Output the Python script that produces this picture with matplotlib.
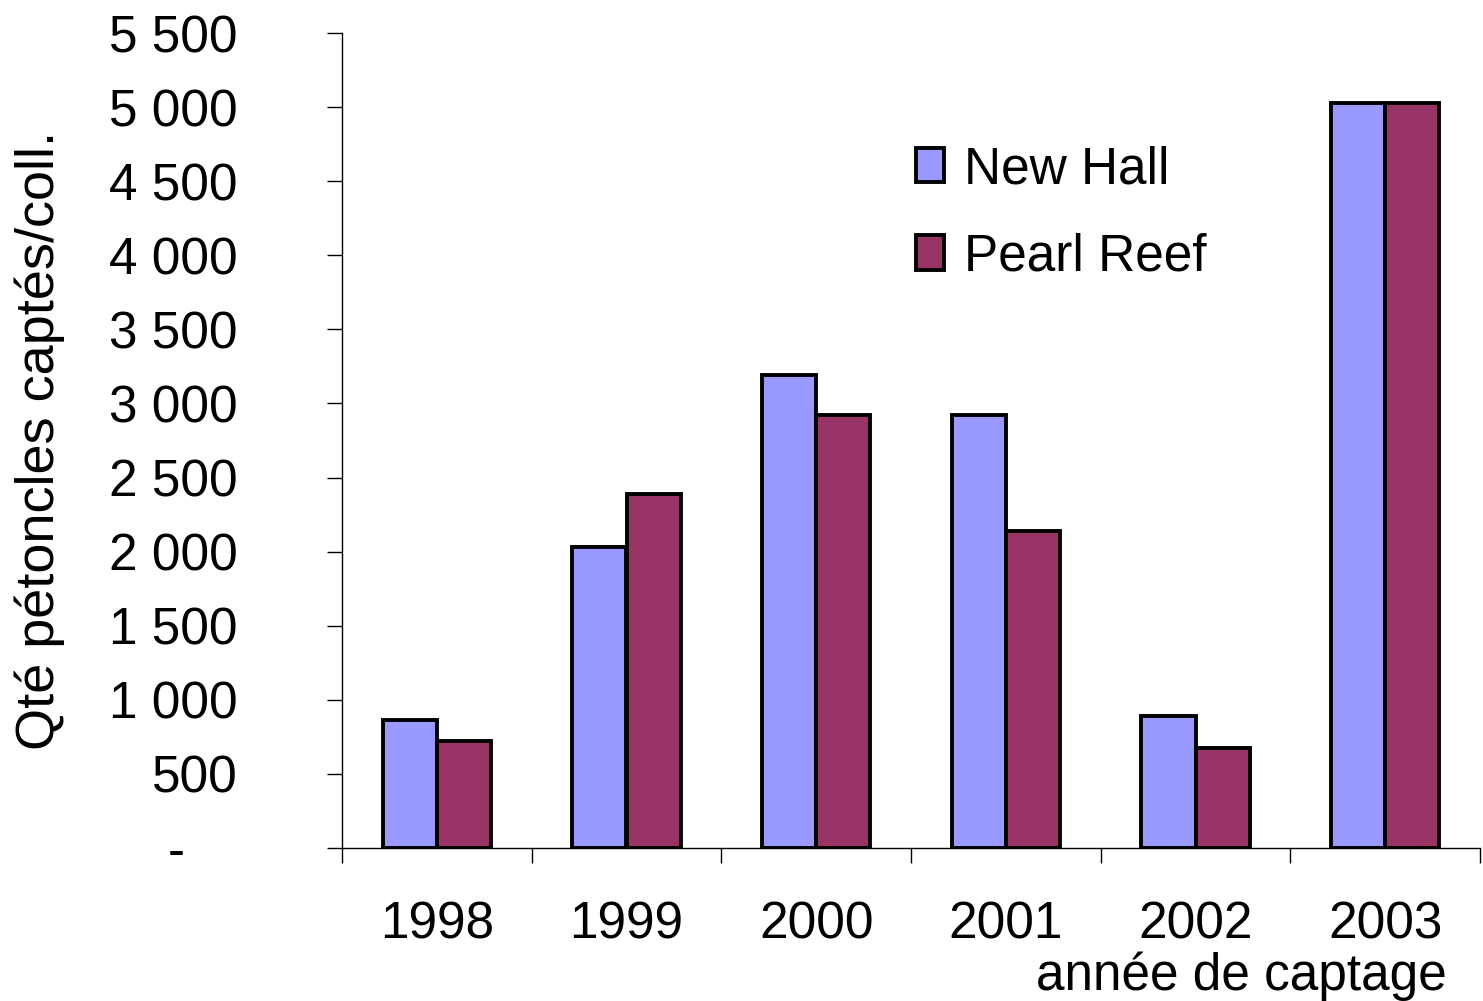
import matplotlib
matplotlib.use("Agg")
import matplotlib.pyplot as plt
import matplotlib.transforms as mtransforms
import numpy as np

plt.rcParams['font.family'] = ['Liberation Sans', 'DejaVu Sans']

years = ['1998', '1999', '2000', '2001', '2002', '2003']
new_hall = [862, 2030, 3190, 2920, 890, 5030]
pearl_reef = [720, 2390, 2920, 2140, 675, 5030]
y_ticks = [0, 500, 1000, 1500, 2000, 2500, 3000, 3500, 4000, 4500, 5000, 5500]
y_labels = ['-', '500', '1 000', '1 500', '2 000', '2 500', '3 000',
            '3 500', '4 000', '4 500', '5 000', '5 500']


def main():
    fs = 37
    fig = plt.figure(figsize=(14.83, 10.01), dpi=100)
    ax = fig.add_axes([342 / 1483, 1 - 848 / 1001, (1480 - 342) / 1483, (848 - 33) / 1001])

    x = np.arange(len(years))
    w = 0.285
    ax.bar(x - w / 2, new_hall, w, color='#9999FF', edgecolor='black',
           linewidth=2.8, label='New Hall')
    ax.bar(x + w / 2, pearl_reef, w, color='#993366', edgecolor='black',
           linewidth=2.8, label='Pearl Reef')

    ax.set_xlim(-0.5, len(years) - 0.5)
    ax.set_ylim(0, 5500)

    for side in ['top', 'right']:
        ax.spines[side].set_visible(False)
    for side in ['left', 'bottom']:
        ax.spines[side].set_linewidth(1.0)

    # category boundaries carry the ticks, centers carry the labels
    ax.set_xticks(np.arange(len(years) + 1) - 0.5)
    ax.set_xticklabels([])
    ax.set_xticks(x, minor=True)
    ax.set_xticklabels(years, minor=True, fontsize=fs)
    ax.tick_params(axis='x', which='major', direction='out', length=11, width=1.0)
    ax.tick_params(axis='x', which='minor', length=0, pad=38)

    ax.set_yticks(y_ticks)
    ax.set_yticklabels(y_labels, fontsize=fs)
    ax.tick_params(axis='y', direction='out', length=11, width=1.0, pad=64)

    # the "-" for zero sits further left, as in the accounting format
    zero_lbl = ax.get_yticklabels()[0]
    zero_lbl.set_transform(zero_lbl.get_transform()
                           + mtransforms.ScaledTranslation(-0.53, 0, fig.dpi_scale_trans))

    fig.text(40 / 1483, 1 - 440 / 1001, 'Qté pétoncles captés/coll.', rotation=90,
             ha='center', va='center', fontsize=39)
    fig.text(1447 / 1483, 1 - 990 / 1001, 'année de captage', ha='right',
             va='baseline', fontsize=fs)

    ax.legend(loc='upper left', bbox_to_anchor=(916 / 1483, 1 - 145 / 1001),
              bbox_transform=fig.transFigure, frameon=False, fontsize=fs,
              handlelength=0.55, handleheight=0.65, handletextpad=0.38,
              labelspacing=0.75, borderpad=0, borderaxespad=0)

    plt.savefig("out.png", dpi=100)


if __name__ == "__main__":
    main()
